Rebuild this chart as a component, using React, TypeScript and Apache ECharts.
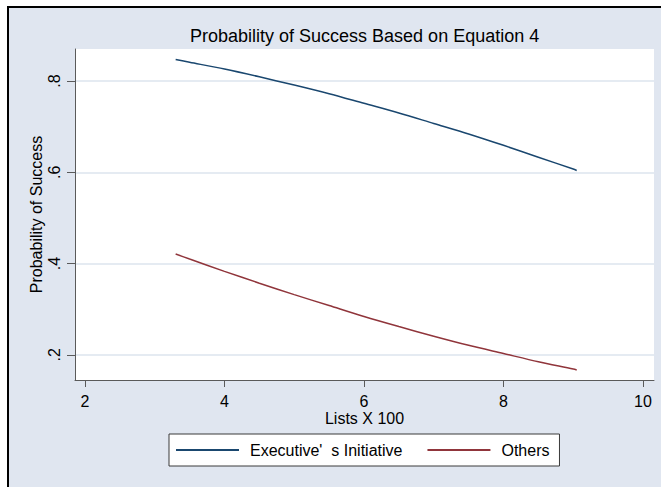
import React, { useEffect, useRef } from "react";
import * as echarts from "echarts";

const titleText = "Probability of Success Based on Equation 4";
const xTitle = "Lists X 100";
const yTitle = "Probability of Success";
const seriesNames = ["Executive'  s Initiative", "Others"];
const xTicks = [2, 4, 6, 8, 10];
const yTicks = [0.2, 0.4, 0.6, 0.8];
const listsX = [3.3, 3.5, 4, 4.5, 5, 5.5, 6, 6.5, 7, 7.5, 8, 8.5, 9, 9.05];
const executive = [0.847, 0.841, 0.826, 0.809, 0.791, 0.772, 0.751, 0.73, 0.707, 0.684, 0.659, 0.633, 0.607, 0.604];
const others = [0.421, 0.41, 0.383, 0.357, 0.332, 0.308, 0.284, 0.262, 0.241, 0.221, 0.203, 0.185, 0.169, 0.167];

const FONT = "'Liberation Sans', Arial, Helvetica, sans-serif";
const BG = "#e0e6f0";
const AXIS = "#5a5a5a";

export default function App() {
  const ref = useRef<HTMLDivElement>(null);
  useEffect(() => {
    if (!ref.current) return;
    const chart = echarts.init(ref.current, undefined, { renderer: "svg" });
    const fmt = (v: number) => String(Number(v.toFixed(2))).replace(/^0\./, ".");
    chart.setOption({
      animation: false,
      backgroundColor: "transparent",
      textStyle: { fontFamily: FONT, color: "#000" },
      title: {
        text: titleText,
        left: 190,
        top: 26,
        padding: 0,
        textStyle: { fontSize: 18, fontWeight: "normal", color: "#000", fontFamily: FONT, lineHeight: 20 },
      },
      grid: {
        left: 75,
        right: 7,
        top: 49,
        bottom: 107,
        show: true,
        backgroundColor: "#ffffff",
        borderWidth: 0,
        containLabel: false,
      },
      xAxis: {
        type: "value",
        min: 1.857,
        max: 10.158,
        name: xTitle,
        nameLocation: "middle",
        nameGap: 30,
        nameMoveOverlap: false,
        nameTextStyle: { fontSize: 16, color: "#000", fontFamily: FONT },
        axisLine: { show: true, onZero: false, lineStyle: { color: AXIS, width: 1 } },
        axisTick: { show: true, length: 7, customValues: xTicks, lineStyle: { color: AXIS } },
        axisLabel: { customValues: xTicks, fontSize: 16, color: "#000", margin: 13, fontFamily: FONT, formatter: (v: number) => String(v) },
        splitLine: { show: false },
      },
      yAxis: {
        type: "value",
        min: 0.145,
        max: 0.87,
        name: yTitle,
        nameLocation: "middle",
        nameGap: 31,
        nameMoveOverlap: false,
        nameTextStyle: { fontSize: 16, color: "#000", fontFamily: FONT },
        axisLine: { show: true, onZero: false, lineStyle: { color: AXIS, width: 1 } },
        axisTick: { show: true, length: 8, customValues: yTicks, lineStyle: { color: AXIS } },
        axisLabel: { customValues: yTicks, rotate: 90, fontSize: 16, color: "#000", margin: 13, fontFamily: FONT, formatter: fmt },
        splitLine: { show: true, lineStyle: { color: "#dde4ee", width: 1.5 } },
      },
      legend: {
        left: 169,
        top: 434,
        orient: "horizontal",
        backgroundColor: "#ffffff",
        borderColor: "#3a3a3a",
        borderWidth: 1,
        borderRadius: 0,
        padding: [7, 10, 7, 7],
        itemGap: 25,
        itemWidth: 63,
        itemHeight: 2,
        icon: "rect",
        textStyle: { fontSize: 16, color: "#000", fontFamily: FONT, padding: [0, 0, 0, 6], lineHeight: 18 },
        data: seriesNames,
      },
      series: [
        {
          name: seriesNames[0],
          type: "line",
          symbol: "none",
          smooth: 0.3,
          color: "#1a476f",
          lineStyle: { color: "#1a476f", width: 1.5 },
          data: listsX.map((x, i) => [x, executive[i]]),
        },
        {
          name: seriesNames[1],
          type: "line",
          symbol: "none",
          smooth: 0.3,
          color: "#90353b",
          lineStyle: { color: "#90353b", width: 1.5 },
          data: listsX.map((x, i) => [x, others[i]]),
        },
      ],
    });
    return () => chart.dispose();
  }, []);
  return (
    <div style={{ position: "fixed", left: 0, top: 0, width: 661, height: 487, background: "#fff", overflow: "hidden" }}>
      <div
        style={{
          position: "absolute",
          left: 7,
          top: 6,
          width: 700,
          height: 600,
          background: BG,
          borderLeft: "2px solid #000",
          borderTop: "2px solid #000",
        }}
      />
      <div ref={ref} style={{ position: "absolute", left: 0, top: 0, width: 661, height: 487 }} />
    </div>
  );
}
